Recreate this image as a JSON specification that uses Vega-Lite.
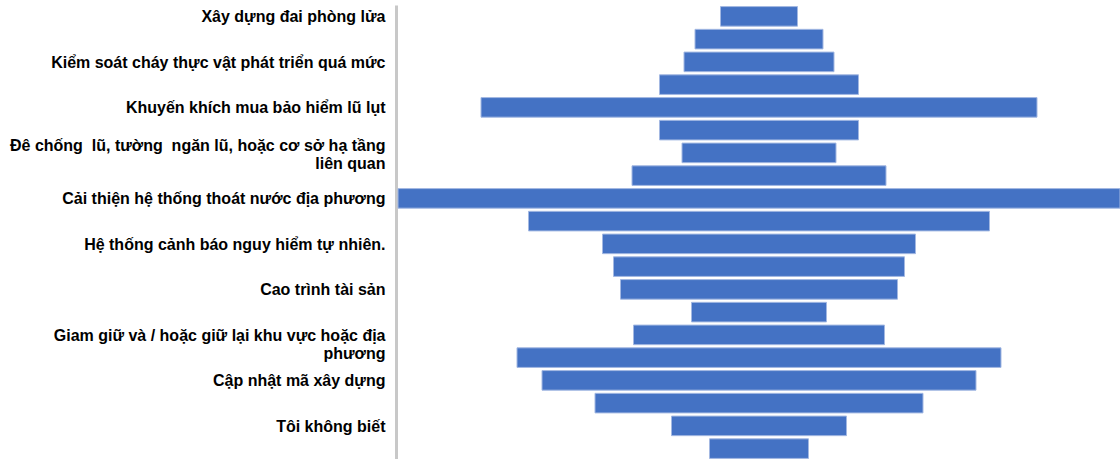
{
  "$schema": "https://vega.github.io/schema/vega-lite/v6.json",
  "width": 722,
  "height": 455,
  "autosize": {"type": "none"},
  "padding": {"left": 398, "top": 5, "right": 0, "bottom": 0},
  "background": "white",
  "config": {"view": {"stroke": null}},
  "data": {
    "values": [
      {"item": "Xây dựng đai phòng lửa", "value": 77},
      {"item": "_2", "value": 128},
      {"item": "Kiểm soát cháy thực vật phát triển quá mức", "value": 150},
      {"item": "_4", "value": 199},
      {"item": "Khuyến khích mua bảo hiểm lũ lụt", "value": 556},
      {"item": "_6", "value": 199},
      {"item": "Đê chống\u00a0 lũ, tường\u00a0 ngăn lũ, hoặc cơ sở hạ tầng|liên quan", "value": 154},
      {"item": "_8", "value": 254},
      {"item": "Cải thiện hệ thống thoát nước địa phương", "value": 722},
      {"item": "_10", "value": 461},
      {"item": "Hệ thống cảnh báo nguy hiểm tự nhiên.", "value": 313},
      {"item": "_12", "value": 291},
      {"item": "Cao trình tài sản", "value": 277},
      {"item": "_14", "value": 135},
      {"item": "Giam giữ và / hoặc giữ lại khu vực hoặc địa|phương", "value": 251},
      {"item": "_16", "value": 484},
      {"item": "Cập nhật mã xây dựng", "value": 434},
      {"item": "_18", "value": 328},
      {"item": "Tôi không biết", "value": 175},
      {"item": "_20", "value": 99}
    ]
  },
  "mark": {"type": "bar", "color": "#4472C4", "stroke": "#a3b8e2", "strokeWidth": 1},
  "encoding": {
    "y": {
      "field": "item",
      "type": "nominal",
      "sort": null,
      "scale": {"paddingInner": 0.14, "paddingOuter": 0.07},
      "axis": {
        "title": null,
        "ticks": false,
        "labelPadding": 11,
        "offset": 2,
        "domainColor": "#c8c8c8",
        "domainWidth": 3,
        "labelFont": "Liberation Sans",
        "labelFontWeight": "bold",
        "labelFontSize": 16,
        "labelColor": "#000000",
        "labelLimit": 400,
        "labelLineHeight": 18,
        "labelOffset": {"condition": {"test": "indexof(datum.value, 'Đê') == 0", "value": -7}, "value": 1},
        "labelExpr": "indexof(datum.value, '_') == 0 ? '' : split(datum.value, '|')"
      }
    },
    "x": {
      "field": "value",
      "type": "quantitative",
      "stack": "center",
      "scale": {"domain": [0, 722], "nice": false, "zero": false},
      "axis": null
    }
  }
}
